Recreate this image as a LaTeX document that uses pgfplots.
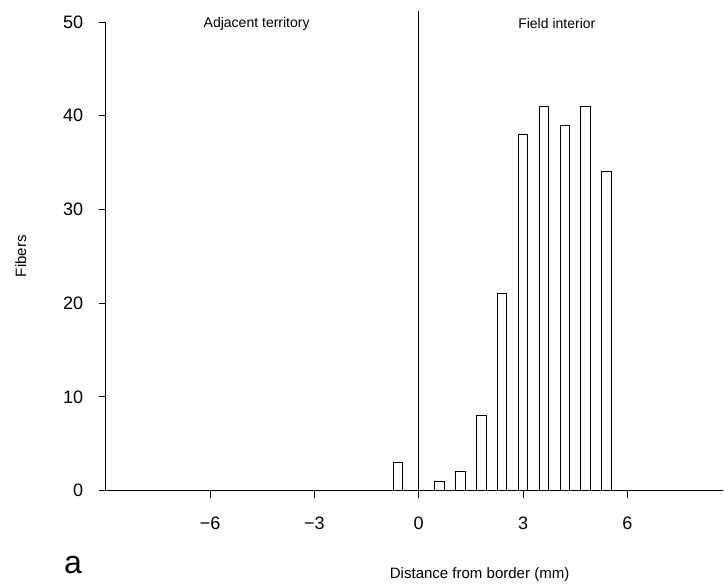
\documentclass[border=0pt]{standalone}
\usepackage{pgfplots}
\pgfplotsset{compat=1.18}
\usepackage{fontspec}
\setmainfont{Liberation Sans}
\begin{document}
\begin{tikzpicture}
\begin{axis}[
  scale only axis, width=617pt, height=468pt,
  xmin=-9, xmax=8.76, ymin=0, ymax=50,
  axis x line*=bottom, axis y line*=left,
  axis line style={line width=1.2pt},
  xtick={-6,-3,0,3,6}, xticklabels={−6,−3,0,3,6},
  ytick={0,10,20,30,40,50},
  tick align=outside, major tick length=7pt,
  tick style={line width=1pt, black},
  ticklabel style={font=\fontsize{18}{18}\selectfont},
  xticklabel style={yshift=-16pt},
  yticklabel style={xshift=-12pt},
  /pgf/number format/assume math mode=true,
  clip=false,
]
\addplot[ybar, bar width=0.27, fill=white, draw=black, line width=1pt]
  coordinates {(-0.6,3) (0.6,1) (1.2,2) (1.8,8) (2.4,21) (3.0,38) (3.6,41) (4.2,39) (4.8,41) (5.4,34)};
\addplot[black, line width=1.2pt] coordinates {(0,0) (0,51.2)};
\node[font=\fontsize{14}{14}\selectfont] at (axis cs:-4.66,49.8) {Adjacent territory};
\node[font=\fontsize{14}{14}\selectfont] at (axis cs:3.97,49.8) {Field interior};
\node[rotate=90, font=\fontsize{15}{15}\selectfont] at ([xshift=-85pt]rel axis cs:0,0.5) {Fibers};
\node[font=\fontsize{15}{15}\selectfont] at (axis cs:1.75,-9) {Distance from border (mm)};
\node[font=\fontsize{32}{32}\selectfont] at (axis cs:-9.94,-8) {a};
\path (axis cs:-12.04,-10.36) rectangle (axis cs:8.76,52.35);
\end{axis}
\end{tikzpicture}
\end{document}
